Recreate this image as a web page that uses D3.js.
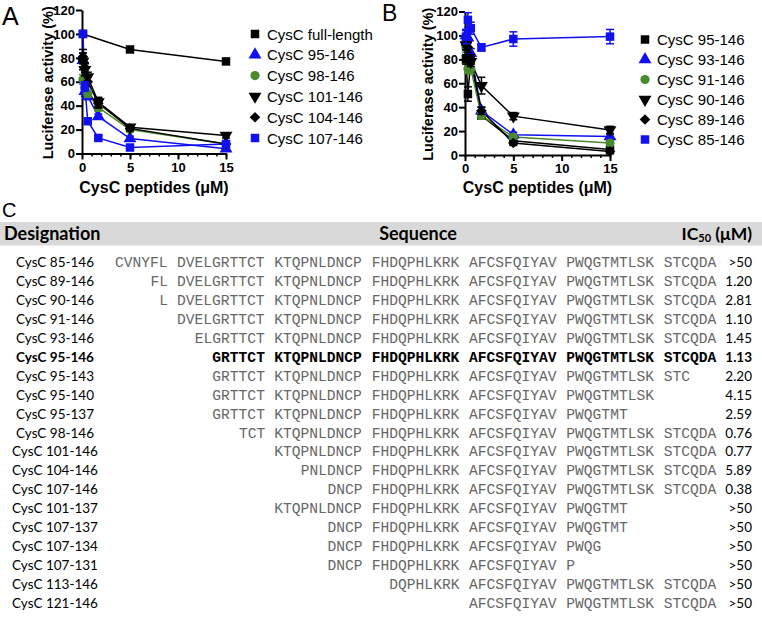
<!DOCTYPE html>
<html><head><meta charset="utf-8">
<script src="https://cdn.jsdelivr.net/npm/d3@7"></script>
<style>body{margin:0;background:#fff} svg{display:block}</style>
</head><body><svg id="c" width="762" height="618"></svg>
<script>
// ---------------- DATA ----------------
const conc = [0.1, 0.3, 0.6, 1.7, 5, 15];           // µM
const xTicks = [0, 5, 10, 15];
const yTicks = [0, 20, 40, 60, 80, 100, 120];

const namesA = ["CysC full-length", "CysC 95-146", "CysC 98-146", "CysC 101-146", "CysC 104-146", "CysC 107-146"];
const fullLengthA = [100, null, null, null, 87, 77];
const p95A  = [78, 52, 48, 31, 12.5, 4];
const p98A  = [62, 55, 50, 38.5, 20, 8];
const p101A = [77, 70, 64, 43, 22, 15];
const p104A = [81, 72, 60, 42, 21, 8];
const p107A = [100, 56, 27, 13, 5, 8];
const errA = [
  [0, 0, 0, 0, 2, 2],
  [6, 4, 3, 2, 2, 2],
  [4, 3, 3, 3, 2, 2],
  [7, 5, 4, 4, 2, 2],
  [6, 4, 4, 4, 2, 2],
  [0, 4, 2, 2, 2, 2]
];

const namesB = ["CysC 95-146", "CysC 93-146", "CysC 91-146", "CysC 90-146", "CysC 89-146", "CysC 85-146"];
const p95B = [80, 51, 80, 33, 12, 4.5];
const p93B = [100, 98, 85, 37, 17, 15.5];
const p91B = [90, 72, 72, 33, 15, 10];
const p90B = [92, 80, 78, 58, 32.5, 21];
const p89B = [92, 90, 80, 37, 10, 3];
const p85B = [99, 113, 106, 90, 97, 99];
const errB = [
  [4, 6, 4, 3, 2, 2],
  [4, 4, 4, 3, 2, 2],
  [4, 4, 4, 3, 2, 2],
  [4, 4, 4, 7, 3, 3],
  [4, 4, 4, 3, 2, 2],
  [6, 6, 5, 3, 6, 6]
];

// Table
const sequence85to146 = "CVNYFLDVELGRTTCTKTQPNLDNCPFHDQPHLKRKAFCSFQIYAVPWQGTMTLSKSTCQDA";
const designations = ["CysC 85-146","CysC 89-146","CysC 90-146","CysC 91-146","CysC 93-146","CysC 95-146","CysC 95-143","CysC 95-140","CysC 95-137","CysC 98-146","CysC 101-146","CysC 104-146","CysC 107-146","CysC 101-137","CysC 107-137","CysC 107-134","CysC 107-131","CysC 113-146","CysC 121-146"];
const startRes = [85, 89, 90, 91, 93, 95, 95, 95, 95, 98, 101, 104, 107, 101, 107, 107, 107, 113, 121];
const endRes   = [146,146,146,146,146,146,143,140,137,146,146,146,146,137,137,134,131,146,146];
const ic50 = [">50","1.20","2.81","1.10","1.45","1.13","2.20","4.15","2.59","0.76","0.77","5.89","0.38",">50",">50",">50",">50",">50",">50"];
const groupStarts = [85, 91, 101, 111, 121, 131, 141];
const highlighted = "CysC 95-146";

// ---------------- STYLE ----------------
const BLUE = "#1010f0", GREEN = "#4a8a2c", BLACK = "#000";
const styleA = [
  {shape: "square", color: BLACK}, {shape: "triUp", color: BLUE}, {shape: "circle", color: GREEN},
  {shape: "triDown", color: BLACK}, {shape: "diamond", color: BLACK}, {shape: "square", color: BLUE}
];
const styleB = styleA;
const ARIAL = "'Liberation Sans', Arial, sans-serif";
const SANS = "Lato, 'Noto Sans', sans-serif";
const MONO = "'Liberation Mono', 'Courier New', monospace";

const svg = d3.select("#c");

function symbolPath(shape) {
  const t = {square: [d3.symbolSquare, 72], triUp: [d3.symbolTriangle, 72], circle: [d3.symbolCircle, 66],
             triDown: [d3.symbolTriangle, 72], diamond: [d3.symbolSquare, 56]}[shape];
  return d3.symbol().type(t[0]).size(t[1])();
}
function symbolRot(shape) { return shape === "triDown" ? 180 : shape === "diamond" ? 45 : 0; }

function drawPanel(cfg) {
  const x = d3.scaleLinear().domain([0, 15]).range([cfg.x0, cfg.x1]);
  const y = d3.scaleLinear().domain([0, 120]).range([cfg.y0, cfg.y1]);
  const g = svg.append("g");

  // minor x ticks
  g.append("g").attr("transform", `translate(0,${cfg.y0})`)
    .call(d3.axisBottom(x).tickValues(d3.range(0, 16, 1)).tickSize(3).tickFormat(""))
    .call(a => a.select(".domain").remove())
    .call(a => a.selectAll("line").attr("stroke-width", 1.5));
  // x axis
  g.append("g").attr("transform", `translate(0,${cfg.y0})`)
    .call(d3.axisBottom(x).tickValues(xTicks).tickSize(6).tickSizeOuter(0).tickPadding(3))
    .call(a => a.select(".domain").attr("stroke-width", 2))
    .call(a => a.selectAll("line").attr("stroke-width", 2))
    .call(a => a.selectAll("text").attr("font-family", ARIAL).attr("font-weight", "bold").attr("font-size", 13).attr("fill", "#000"));
  // y axis
  g.append("g").attr("transform", `translate(${cfg.x0},0)`)
    .call(d3.axisLeft(y).tickValues(yTicks).tickSize(6).tickSizeOuter(0).tickPadding(1))
    .call(a => a.select(".domain").attr("stroke-width", 2))
    .call(a => a.selectAll("line").attr("stroke-width", 2))
    .call(a => a.selectAll("text").attr("font-family", ARIAL).attr("font-weight", "bold").attr("font-size", 13).attr("fill", "#000"));

  // axis titles
  g.append("text").attr("transform", `translate(${cfg.yTitleX},${(cfg.y0 + cfg.y1) / 2 + 1}) rotate(-90)`)
    .attr("text-anchor", "middle").attr("font-family", ARIAL).attr("font-weight", "bold").attr("font-size", 14.5)
    .text("Luciferase activity (%)");
  g.append("text").attr("x", (cfg.x0 + cfg.x1) / 2).attr("y", 193)
    .attr("text-anchor", "middle").attr("font-family", ARIAL).attr("font-weight", "bold").attr("font-size", 16)
    .text("CysC peptides (μM)");
  // panel letter
  g.append("text").attr("x", cfg.letterX).attr("y", cfg.letterY).attr("font-family", ARIAL).attr("font-size", cfg.letterSize)
    .text(cfg.letter);

  const line = d3.line().x(d => x(d.c)).y(d => y(d.v));
  const seriesData = cfg.series.map((vals, i) => vals.map((v, j) => ({c: conc[j], v: v, e: cfg.errs[i][j]})).filter(d => d.v != null));

  seriesData.forEach((pts, i) => {
    const st = cfg.styles[i];
    g.append("path").datum(pts).attr("d", line).attr("fill", "none").attr("stroke", st.color).attr("stroke-width", 1.5);
  });
  seriesData.forEach((pts, i) => {
    const st = cfg.styles[i];
    const eb = g.append("g").attr("stroke", st.color).attr("stroke-width", 1.5);
    pts.filter(d => d.e > 0).forEach(d => {
      const cx = x(d.c);
      eb.append("line").attr("x1", cx).attr("x2", cx).attr("y1", y(d.v - d.e)).attr("y2", y(d.v + d.e));
      eb.append("line").attr("x1", cx - 4).attr("x2", cx + 4).attr("y1", y(d.v - d.e)).attr("y2", y(d.v - d.e));
      eb.append("line").attr("x1", cx - 4).attr("x2", cx + 4).attr("y1", y(d.v + d.e)).attr("y2", y(d.v + d.e));
    });
    g.selectAll(null).data(pts).join("path")
      .attr("d", symbolPath(st.shape))
      .attr("transform", d => `translate(${x(d.c)},${y(d.v)}) rotate(${symbolRot(st.shape)})`)
      .attr("fill", st.color);
  });

  // legend
  cfg.names.forEach((n, i) => {
    const st = cfg.styles[i];
    const cy = cfg.legY + i * cfg.legStep;
    g.append("path").attr("d", symbolPath(st.shape))
      .attr("transform", `translate(${cfg.legX},${cy}) rotate(${symbolRot(st.shape)})`).attr("fill", st.color);
    g.append("text").attr("x", cfg.legX + 12).attr("y", cy + 5.5).attr("font-family", ARIAL).attr("font-size", 15)
      .text(n);
  });
}

drawPanel({x0: 82, x1: 226, y0: 153.5, y1: 10, yTitleX: 53, letter: "A", letterX: 2, letterY: 25, letterSize: 25,
  series: [fullLengthA, p95A, p98A, p101A, p104A, p107A], errs: errA, styles: styleA, names: namesA,
  legX: 255, legY: 34, legStep: 20.8});
drawPanel({x0: 465, x1: 610, y0: 155, y1: 11.5, yTitleX: 433, letter: "B", letterX: 382, letterY: 21, letterSize: 23,
  series: [p95B, p93B, p91B, p90B, p89B, p85B], errs: errB, styles: styleB, names: namesB,
  legX: 645, legY: 39.5, legStep: 20});

// ---------------- TABLE ----------------
const tg = svg.append("g");
tg.append("rect").attr("x", 0).attr("y", 222).attr("width", 762).attr("height", 23.5).attr("fill", "#d9d9d9");
tg.append("text").attr("x", 2).attr("y", 217).attr("font-family", ARIAL).attr("font-size", 20).text("C");
tg.append("text").attr("x", 4).attr("y", 240).attr("font-family", SANS).attr("font-weight", "bold").attr("font-size", 18).text("Designation");
tg.append("text").attr("x", 418).attr("y", 240).attr("text-anchor", "middle").attr("font-family", SANS).attr("font-weight", "bold").attr("font-size", 18).text("Sequence");
const ict = tg.append("text").attr("x", 752).attr("y", 240).attr("text-anchor", "end").attr("font-family", SANS).attr("font-weight", "bold").attr("font-size", 17.5);
ict.append("tspan").text("IC");
ict.append("tspan").attr("font-size", 11).attr("dy", 2).text("50");
ict.append("tspan").attr("dy", -2).text(" (μM)");

const rowY = d3.scaleLinear().domain([0, designations.length - 1]).range([262, 603]);
// column position of a residue (with a space between groups of 10)
const colOf = r => (r - 85) + groupStarts.filter(b => b <= r && b > 85).length;
const colX = d3.scaleLinear().domain([0, 68]).range([115, 115 + 68 * 8.85]);

designations.forEach((name, i) => {
  const cy = rowY(i);
  const bold = name === highlighted;
  tg.append("text").attr("x", 55).attr("y", cy + 5).attr("text-anchor", "middle")
    .attr("font-family", SANS).attr("font-size", 13.5).attr("font-weight", bold ? "bold" : "normal").text(name);
  // sequence segments
  groupStarts.forEach((gs, k) => {
    const ge = k < groupStarts.length - 1 ? groupStarts[k + 1] - 1 : 146;
    const s = Math.max(gs, startRes[i]), e = Math.min(ge, endRes[i]);
    if (s > e) return;
    tg.append("text").attr("x", colX(colOf(s))).attr("y", cy + 5)
      .attr("font-family", MONO).attr("font-size", 14.6)
      .attr("font-weight", bold ? "bold" : "normal").attr("fill", bold ? "#000" : "#666")
      .text(sequence85to146.slice(s - 85, e - 85 + 1));
  });
  tg.append("text").attr("x", 752).attr("y", cy + 5).attr("text-anchor", "end")
    .attr("font-family", SANS).attr("font-size", 13.5).attr("font-weight", bold ? "bold" : "normal").text(ic50[i]);
});
</script>
</body></html>
